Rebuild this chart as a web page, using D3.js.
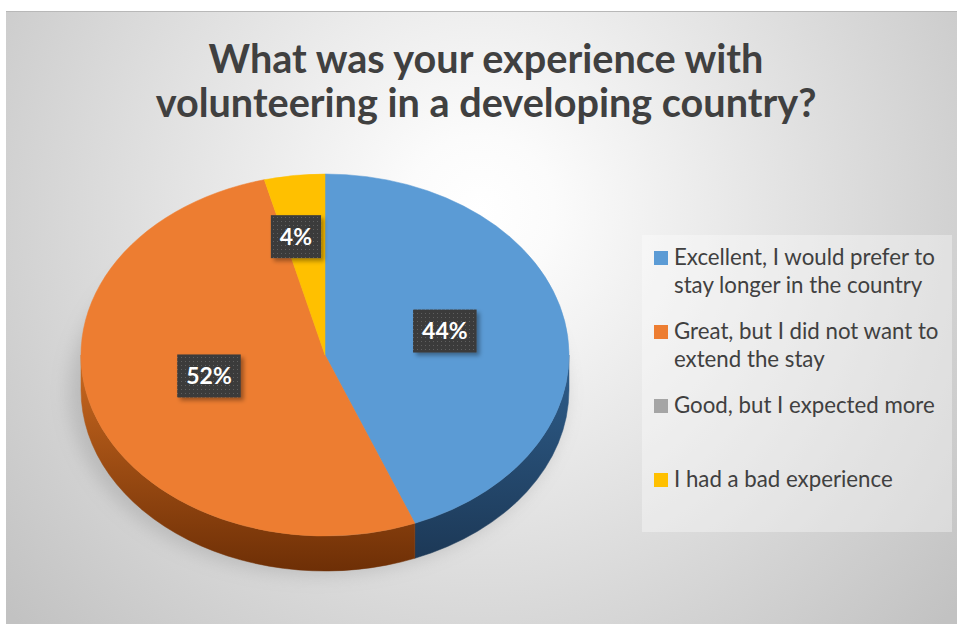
<!DOCTYPE html>
<html>
<head>
<meta charset="utf-8">
<script src="https://cdn.jsdelivr.net/npm/d3@7"></script>
<style>
html,body{margin:0;padding:0;background:#fff;}
svg{display:block;}
</style>
</head>
<body>
<svg id="chart" width="957" height="624"></svg>
<script>
// ---- data ----
const titleLines = ["What was your experience with", "volunteering in a developing country?"];
const categories = [
  "Excellent, I would prefer to stay longer in the country",
  "Great, but I did not want to extend the stay",
  "Good, but I expected more",
  "I had a bad experience"
];
const values = [44, 52, 0, 4];
const colors = ["#5b9bd5", "#ed7d31", "#a5a5a5", "#ffc000"];
const sideTop = ["#2f5e8c", "#cc6a20", "#7c7c7c", "#c09000"];
const sideBottom = ["#1b3653", "#6e2f06", "#4a4a4a", "#7a5c00"];

// ---- layout ----
const W = 957, H = 624;
const svg = d3.select("#chart");
const defs = svg.append("defs");

const bg = defs.append("radialGradient").attr("id", "bg")
  .attr("gradientUnits", "userSpaceOnUse")
  .attr("cx", 480).attr("cy", 210).attr("r", 620);
bg.append("stop").attr("offset", 0).attr("stop-color", "#ffffff");
bg.append("stop").attr("offset", 0.12).attr("stop-color", "#fbfbfb");
bg.append("stop").attr("offset", 1).attr("stop-color", "#c2c2c2");

svg.append("rect").attr("x", 6).attr("y", 11).attr("width", W - 6).attr("height", H - 11)
  .attr("fill", "url(#bg)");
svg.append("line").attr("x1", 6).attr("x2", W).attr("y1", 11.5).attr("y2", 11.5)
  .attr("stroke", "#b8b8b8").attr("stroke-width", 1);

// ---- title ----
const titleG = svg.append("g");
const titleCx = 486;
const titleBase = [73, 117];
const tl = titleG.selectAll("text").data(titleLines).join("text")
  .attr("x", titleCx).attr("y", (d, i) => titleBase[i])
  .attr("text-anchor", "middle")
  .attr("font-family", "Lato, 'Open Sans', sans-serif")
  .attr("font-weight", "bold")
  .attr("fill", "#404040")
  .attr("font-size", 40)
  .text(d => d);
{
  const node = tl.nodes()[1];
  const w = node.getComputedTextLength();
  const fs = 40 * 661 / w;
  tl.attr("font-size", fs);
}

// ---- pie ----
const cx = 325, cy = 355, rx = 244, ry = 181, depth = 35;
const pie = d3.pie().sort(null).value(d => d);
const arcs = pie(values);
const P = (t, dy = 0) => [cx + rx * Math.sin(t), cy - ry * Math.cos(t) + dy];

// shadow
const blur = defs.append("filter").attr("id", "blur").attr("x", "-20%").attr("y", "-20%").attr("width", "140%").attr("height", "140%");
blur.append("feGaussianBlur").attr("stdDeviation", 9);
svg.append("ellipse").attr("cx", cx - 8).attr("cy", cy + depth + 2).attr("rx", rx + 4).attr("ry", ry + 2)
  .attr("fill", "#8a8a8a").attr("opacity", 0.35).attr("filter", "url(#blur)");

arcs.forEach((a, i) => {
  const g = defs.append("linearGradient").attr("id", "side" + i)
    .attr("gradientUnits", "userSpaceOnUse")
    .attr("x1", 0).attr("x2", 0).attr("y1", cy).attr("y2", cy + ry + depth);
  g.append("stop").attr("offset", 0).attr("stop-color", sideTop[i]);
  g.append("stop").attr("offset", 1).attr("stop-color", sideBottom[i]);
});

const sideG = svg.append("g");
arcs.forEach((a, i) => {
  const s = Math.max(a.startAngle, Math.PI / 2);
  const e = Math.min(a.endAngle, 3 * Math.PI / 2);
  if (e <= s) return;
  const p0 = P(s), p1 = P(e), p2 = P(e, depth), p3 = P(s, depth);
  const path = `M${p0}A${rx},${ry} 0 0 1 ${p1}L${p2}A${rx},${ry} 0 0 0 ${p3}Z`;
  sideG.append("path").attr("d", path).attr("fill", `url(#side${i})`)
    .attr("stroke", `url(#side${i})`).attr("stroke-width", 0.5);
});

const arcGen = d3.arc().innerRadius(0).outerRadius(rx);
svg.append("g").attr("transform", `translate(${cx},${cy}) scale(1,${ry / rx})`)
  .selectAll("path").data(arcs.filter(a => a.value > 0)).join("path")
  .attr("d", arcGen)
  .attr("fill", (d) => colors[d.index])
  .attr("stroke", (d) => colors[d.index]).attr("stroke-width", 0.6);

// ---- data labels ----
const pat = defs.append("pattern").attr("id", "dots").attr("patternUnits", "userSpaceOnUse")
  .attr("width", 4).attr("height", 4);
pat.append("rect").attr("width", 4).attr("height", 4).attr("fill", "#3b3b3b");
pat.append("rect").attr("x", 1).attr("y", 1).attr("width", 1).attr("height", 1).attr("fill", "#5e5e5e");
const sh = defs.append("filter").attr("id", "lblShadow").attr("x", "-30%").attr("y", "-30%").attr("width", "160%").attr("height", "160%");
sh.append("feDropShadow").attr("dx", 3).attr("dy", 3).attr("stdDeviation", 2)
  .attr("flood-color", "#000").attr("flood-opacity", 0.35);

const total = d3.sum(values);
const labelG = svg.append("g");
arcs.filter(a => a.value > 0).forEach(a => {
  const mid = (a.startAngle + a.endAngle) / 2;
  const small = (a.value / total) < 0.1;
  const fx = small ? 0.95 : 0.5, fy = small ? 0.62 : 0.5;
  const x = cx + rx * fx * Math.sin(mid);
  const y = cy - ry * fy * Math.cos(mid) - 7;
  const txt = Math.round(a.value / total * 100) + "%";
  const g = labelG.append("g");
  const t = g.append("text").attr("x", x).attr("y", y + 8)
    .attr("text-anchor", "middle")
    .attr("font-family", "Lato, 'Open Sans', sans-serif").attr("font-weight", "bold")
    .attr("font-size", 23).attr("fill", "#ffffff").text(txt);
  const w = t.node().getComputedTextLength() + 18;
  g.insert("rect", "text").attr("x", x - w / 2).attr("y", y - 21.5).attr("width", w).attr("height", 43)
    .attr("fill", "url(#dots)").attr("filter", "url(#lblShadow)");
});

// ---- legend ----
svg.append("rect").attr("x", 642).attr("y", 235).attr("width", 310).attr("height", 297)
  .attr("fill", "#ffffff").attr("opacity", 0.35);
const legX = 654, legTextX = 674, legY0 = 265, legStep = 74, lineH = 28, maxW = 272;
const legG = svg.append("g");
const probe = legG.append("text").attr("font-family", "Lato, 'Open Sans', sans-serif")
  .attr("font-size", 20).text("Excellent, I would prefer to");
const legFs = 20 * 261 / probe.node().getComputedTextLength();
probe.remove();

categories.forEach((c, i) => {
  const y = legY0 + i * legStep;
  legG.append("rect").attr("x", legX).attr("y", y - 14).attr("width", 14).attr("height", 14)
    .attr("fill", colors[i]);
  const t = legG.append("text").attr("x", legTextX).attr("y", y)
    .attr("font-family", "Lato, 'Open Sans', sans-serif").attr("font-size", legFs)
    .attr("fill", "#404040");
  const words = c.split(" ");
  let line = [], lineNo = 0;
  let ts = t.append("tspan").attr("x", legTextX).attr("y", y);
  words.forEach(wd => {
    line.push(wd);
    ts.text(line.join(" "));
    if (ts.node().getComputedTextLength() > maxW && line.length > 1) {
      line.pop();
      ts.text(line.join(" "));
      line = [wd];
      lineNo++;
      ts = t.append("tspan").attr("x", legTextX).attr("y", y + lineNo * lineH).text(wd);
    }
  });
});
</script>
</body>
</html>
